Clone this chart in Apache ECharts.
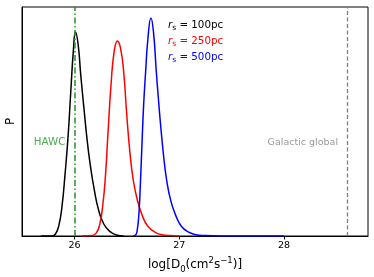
<!DOCTYPE html>
<html>
<head>
<meta charset="utf-8">
<script src="https://cdn.jsdelivr.net/npm/echarts@6/dist/echarts.min.js"></script>
<style>
html,body{margin:0;padding:0;background:#fff;}
#chart{width:374px;height:277px;}
</style>
</head>
<body>
<div id="chart"></div>
<script>
// ---- data ----
const seriesNames = ['100pc', '250pc', '500pc'];
const seriesColors = ['#000000', '#ff0000', '#0000ff'];

const blackX = [25.68, 25.79, 25.82, 25.85, 25.88, 25.91, 25.94, 25.965, 25.99, 26.01, 26.035, 26.06, 26.09, 26.12, 26.15, 26.19, 26.23, 26.28, 26.34, 26.40, 26.47];
const blackP = [0, 0, 0.010, 0.045, 0.130, 0.280, 0.460, 0.660, 0.850, 0.935, 0.880, 0.740, 0.590, 0.445, 0.330, 0.210, 0.120, 0.055, 0.020, 0.005, 0];

const redX = [26.07, 26.17, 26.21, 26.24, 26.27, 26.295, 26.32, 26.35, 26.38, 26.41, 26.44, 26.47, 26.50, 26.53, 26.56, 26.60, 26.65, 26.70, 26.77, 26.85, 26.95, 27.00];
const redP = [0, 0.002, 0.015, 0.050, 0.140, 0.270, 0.470, 0.700, 0.850, 0.894, 0.860, 0.750, 0.550, 0.380, 0.260, 0.165, 0.090, 0.045, 0.017, 0.005, 0.001, 0];

const blueX = [26.56, 26.585, 26.60, 26.615, 26.63, 26.645, 26.66, 26.68, 26.70, 26.73, 26.755, 26.78, 26.80, 26.82, 26.85, 26.88, 26.92, 26.97, 27.02, 27.08, 27.15, 27.25, 27.40, 28.00];
const blueP = [0, 0.005, 0.030, 0.100, 0.250, 0.430, 0.600, 0.760, 0.900, 1.000, 0.930, 0.760, 0.635, 0.520, 0.370, 0.255, 0.160, 0.090, 0.045, 0.020, 0.007, 0.002, 0, 0];

const refLineX = [26, 28.6];
const refLineLabels = ['HAWC', 'Galactic global'];
const refLineColors = ['#1f961f', '#808080'];
const refLabelSizes = [10.3, 9.5];
const refLabelY = 0.43;

const xTicks = [26, 27, 28];
const xTickLabels = ['26', '27', '28'];
const xMin = 25.5, xMax = 28.8, yMin = 0, yMax = 1.05;

// ---- build chart ----
const FONT = 'DejaVu Sans';
const zip = (xs, ys) => xs.map((x, i) => [x, ys[i]]);
const curves = [zip(blackX, blackP), zip(redX, redP), zip(blueX, blueP)];

const series = curves.map((d, i) => ({
  name: seriesNames[i],
  type: 'line',
  data: d,
  smooth: 0.5,
  showSymbol: false,
  symbol: 'none',
  lineStyle: { color: seriesColors[i], width: 1.5 },
  itemStyle: { color: seriesColors[i] },
  z: 3
}));

// vertical reference lines
series.push({
  name: 'ref',
  type: 'line',
  data: [],
  markLine: {
    silent: true,
    symbol: 'none',
    label: { show: false },
    data: [
      { xAxis: refLineX[0], lineStyle: { color: refLineColors[0], width: 1.5, type: [6, 2.5, 1.5, 2.5] } },
      { xAxis: refLineX[1], lineStyle: { color: refLineColors[1], width: 1.3, type: [4, 2.5] } }
    ]
  }
});

// labels anchored to the reference lines
series.push({
  name: 'refLabels',
  type: 'scatter',
  symbolSize: 0,
  silent: true,
  data: refLineX.map((x, i) => ({
    value: [x, refLabelY],
    label: {
      show: true,
      position: 'left',
      distance: 9,
      formatter: refLineLabels[i],
      color: refLineColors[i],
      fontFamily: FONT,
      fontSize: refLabelSizes[i]
    }
  }))
});

function legendRich(color) {
  return {
    r: { fontStyle: 'italic', fontSize: 10.3, color: color, fontFamily: FONT, lineHeight: 13 },
    s: { fontSize: 7.5, color: color, fontFamily: FONT, verticalAlign: 'bottom', lineHeight: 9 },
    t: { fontSize: 10.3, color: color, fontFamily: FONT, lineHeight: 13 }
  };
}

const option = {
  animation: false,
  backgroundColor: '#ffffff',
  grid: {
    left: 22, right: 6, top: 7, bottom: 41,
    show: true, borderColor: '#000', borderWidth: 1,
    containLabel: false, outerBoundsMode: 'none'
  },
  legend: {
    orient: 'vertical',
    left: 158,
    top: 14,
    icon: 'none',
    itemWidth: 0,
    itemHeight: 10,
    itemGap: 3,
    selectedMode: false,
    data: seriesNames.map((n, i) => ({
      name: n,
      textStyle: { color: seriesColors[i], fontSize: 10.3, lineHeight: 13, fontFamily: FONT, rich: legendRich(seriesColors[i]) }
    })),
    formatter: n => '{r|r}{s|s}{t| = ' + n + '}'
  },
  xAxis: {
    type: 'value',
    min: xMin, max: xMax,
    axisLine: { show: true, onZero: false, lineStyle: { color: '#000', width: 1 } },
    axisTick: { show: true, customValues: xTicks, length: 3.5, lineStyle: { color: '#000' } },
    axisLabel: {
      show: true, customValues: xTicks,
      formatter: v => xTickLabels[xTicks.indexOf(v)] ?? '',
      color: '#000', fontSize: 9.5, fontFamily: FONT, margin: 5
    },
    splitLine: { show: false },
    name: 'log[D{sub|0}(cm{sup|2}s{sup|\u22121})]',
    nameLocation: 'middle',
    nameGap: 16,
    nameTextStyle: {
      color: '#000', fontSize: 12, fontFamily: FONT, lineHeight: 18,
      rich: {
        sub: { fontSize: 8.5, fontFamily: FONT, color: '#000', verticalAlign: 'bottom', lineHeight: 14 },
        sup: { fontSize: 8.5, fontFamily: FONT, color: '#000', verticalAlign: 'top', lineHeight: 10 }
      }
    }
  },
  yAxis: {
    type: 'value',
    min: yMin, max: yMax,
    axisLine: { show: true, lineStyle: { color: '#000', width: 1 } },
    axisTick: { show: false },
    axisLabel: { show: false },
    splitLine: { show: false },
    name: 'P',
    nameLocation: 'middle',
    nameGap: 5,
    nameTextStyle: { color: '#000', fontSize: 12, fontFamily: FONT }
  },
  series: series
};

const chart = echarts.init(document.getElementById('chart'), null, { renderer: 'canvas' });
chart.setOption(option);
</script>
</body>
</html>
